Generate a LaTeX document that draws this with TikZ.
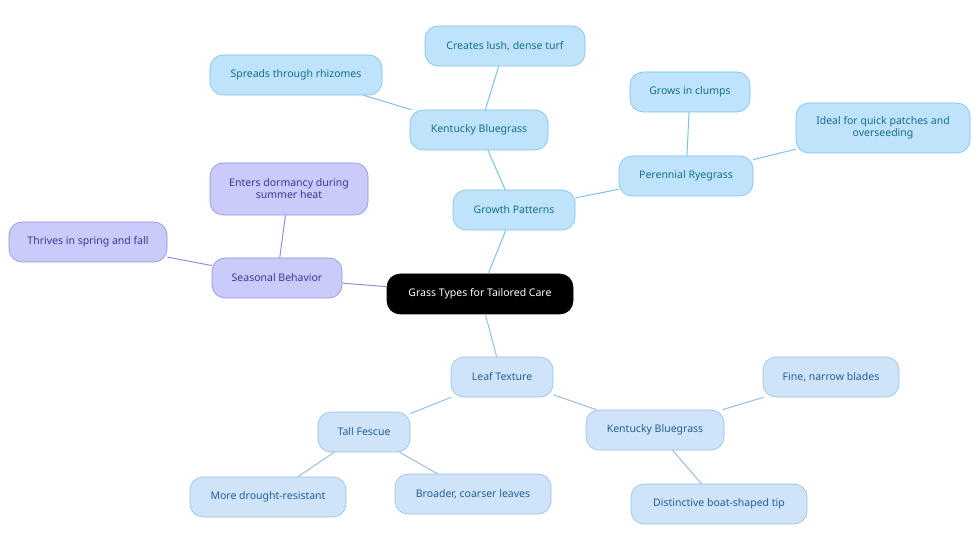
\documentclass[tikz,border=0pt]{standalone}
\usepackage{fontspec}
\setmainfont{Noto Sans}
\begin{document}
\begin{tikzpicture}[x=1pt,y=-1pt,
 base/.style={rounded corners=13pt,draw,line width=0.6pt,align=center,font=\fontsize{10.5}{12}\selectfont,inner sep=0pt},
 gp/.style={base,fill=blue1,draw=blue1d,text=tealt},
 lt/.style={base,fill=blue2,draw=blue2d,text=bluet},
 sb/.style={base,fill=purp,draw=purpd,text=purpt},
 l1/.style={draw=blue1d,line width=1pt},
 l2/.style={draw=blue2d,line width=1pt},
 l3/.style={draw=purpd,line width=1pt}]
\definecolor{blue1}{HTML}{BEE3FA}\definecolor{blue1d}{HTML}{7CC2EA}\definecolor{tealt}{HTML}{15708F}
\definecolor{blue2}{HTML}{CFE4F8}\definecolor{blue2d}{HTML}{97BFE6}\definecolor{bluet}{HTML}{22609A}
\definecolor{purp}{HTML}{CACAFB}\definecolor{purpd}{HTML}{8F8FE0}\definecolor{purpt}{HTML}{3A3A96}
\path[use as bounding box,fill=white](0,0) rectangle (980,553);
\node[base,fill=black,draw=black,text=white,minimum width=186pt,minimum height=40pt] (c) at (480,294) {Grass Types for Tailored Care};
\node[gp,minimum width=122pt,minimum height=40pt] (gp) at (514,210) {Growth Patterns};
\node[gp,minimum width=138pt,minimum height=40pt] (kb1) at (479,130) {Kentucky Bluegrass};
\node[gp,minimum width=160pt,minimum height=40pt] (clt) at (505,46) {Creates lush, dense turf};
\node[gp,minimum width=172pt,minimum height=40pt] (str) at (296,75) {Spreads through rhizomes};
\node[gp,minimum width=134pt,minimum height=40pt] (pr) at (686,176) {Perennial Ryegrass};
\node[gp,minimum width=120pt,minimum height=40pt] (gic) at (690,92) {Grows in clumps};
\node[gp,minimum width=174pt,minimum height=50pt] (iqp) at (883,128) {Ideal for quick patches and\\overseeding};
\node[sb,minimum width=130pt,minimum height=40pt] (sb) at (277,278) {Seasonal Behavior};
\node[sb,minimum width=158pt,minimum height=52pt] (ed) at (289,189) {Enters dormancy during\\summer heat};
\node[sb,minimum width=158pt,minimum height=40pt] (ts) at (88,242) {Thrives in spring and fall};
\node[lt,minimum width=102pt,minimum height=40pt] (lt) at (502,377) {Leaf Texture};
\node[lt,minimum width=92pt,minimum height=40pt] (tf) at (364,432) {Tall Fescue};
\node[lt,minimum width=156pt,minimum height=40pt] (mdr) at (268,497) {More drought-resistant};
\node[lt,minimum width=156pt,minimum height=40pt] (bcl) at (473,494) {Broader, coarser leaves};
\node[lt,minimum width=138pt,minimum height=40pt] (kb2) at (655,430) {Kentucky Bluegrass};
\node[lt,minimum width=136pt,minimum height=40pt] (fnb) at (831,377) {Fine, narrow blades};
\node[lt,minimum width=176pt,minimum height=40pt] (dbt) at (719,504) {Distinctive boat-shaped tip};
\begin{scope}[on background layer/.style={}]
\end{scope}
\draw[l1] (c) -- (gp); \draw[l1] (gp) -- (kb1); \draw[l1] (kb1) -- (clt); \draw[l1] (kb1) -- (str);
\draw[l1] (gp) -- (pr); \draw[l1] (pr) -- (gic); \draw[l1] (pr) -- (iqp);
\draw[l3] (c) -- (sb); \draw[l3] (sb) -- (ed); \draw[l3] (sb) -- (ts);
\draw[l2] (c) -- (lt); \draw[l2] (lt) -- (tf); \draw[l2] (tf) -- (mdr); \draw[l2] (tf) -- (bcl);
\draw[l2] (lt) -- (kb2); \draw[l2] (kb2) -- (fnb); \draw[l2] (kb2) -- (dbt);
\end{tikzpicture}
\end{document}
